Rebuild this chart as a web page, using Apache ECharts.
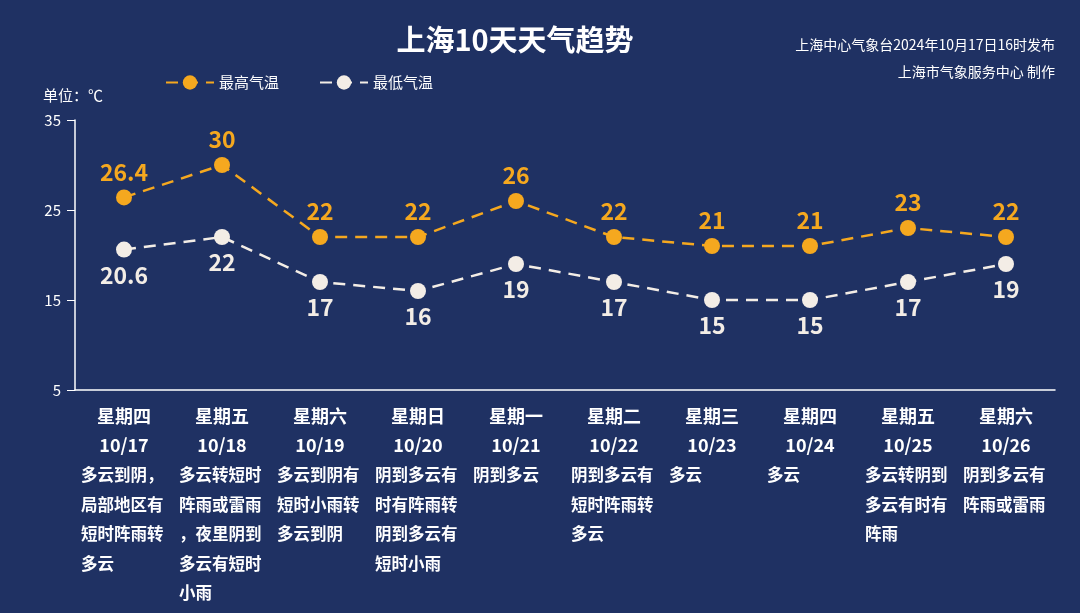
<!DOCTYPE html><html><head><meta charset="utf-8"><script src="https://cdn.jsdelivr.net/npm/echarts@6/dist/echarts.min.js"></script>
<style>html,body{margin:0;background:#1f3163}#c{width:1080px;height:613px}</style></head><body><div id="c"></div><script>
const weekdays=['星期四','星期五','星期六','星期日','星期一','星期二','星期三','星期四','星期五','星期六'];
const dates=['10/17','10/18','10/19','10/20','10/21','10/22','10/23','10/24','10/25','10/26'];
const descs=[['多云到阴，','局部地区有','短时阵雨转','多云'],['多云转短时','阵雨或雷雨','，夜里阴到','多云有短时','小雨'],['多云到阴有','短时小雨转','多云到阴'],['阴到多云有','时有阵雨转','阴到多云有','短时小雨'],['阴到多云'],['阴到多云有','短时阵雨转','多云'],['多云'],['多云'],['多云转阴到','多云有时有','阵雨'],['阴到多云有','阵雨或雷雨']];
const highs=[26.4,30,22,22,26,22,21,21,23,22];
const lows=[20.6,22,17,16,19,17,15,15,17,19];
const F='"Noto Sans CJK SC",sans-serif';
const ch=echarts.init(document.getElementById('c'));
ch.setOption({backgroundColor:'#1f3163',textStyle:{fontFamily:F},
title:[{text:'上海10天天气趋势',left:510,top:20,textAlign:'center',textStyle:{color:'#fff',fontSize:29,fontWeight:'bold',fontFamily:F}},
{text:'上海中心气象台2024年10月17日16时发布',right:20,top:33,textStyle:{color:'#fff',fontSize:14,fontWeight:'normal',fontFamily:F}},
{text:'上海市气象服务中心 制作',right:20,top:60,textStyle:{color:'#fff',fontSize:14,fontWeight:'normal',fontFamily:F}},
{text:'单位：℃',left:38,top:83,textStyle:{color:'#fff',fontSize:15,fontWeight:'normal',fontFamily:F}}],
legend:{left:160,top:70,itemWidth:48,itemHeight:18,itemGap:40,textStyle:{color:'#fff',fontSize:15},data:['最高气温','最低气温']},
grid:{left:75,right:25,top:120,bottom:223},
xAxis:{type:'category',data:weekdays,axisLine:{lineStyle:{color:'#fff',width:1.5}},axisTick:{interval:0,length:70,lineStyle:{color:'#fff'}},
axisLabel:{interval:0,margin:12,formatter:(v,i)=>'{w|'+v+'}\n{w|'+dates[i]+'}\n'+descs[i].map(s=>'{d|'+s+'}').join('\n'),
rich:{w:{color:'#fff',fontSize:18,fontWeight:'bold',lineHeight:29,fontFamily:F},d:{color:'#fff',fontSize:16.5,fontWeight:'bold',lineHeight:29.5,width:86,align:'left',fontFamily:F}}}},
yAxis:{type:'value',min:5,max:35,interval:10,splitLine:{show:false},axisLine:{show:true,lineStyle:{color:'#fff',width:1.5}},axisTick:{show:true,length:8,lineStyle:{color:'#fff'}},axisLabel:{color:'#fff',fontSize:15,margin:14}},
series:[{name:'最高气温',type:'line',data:highs,symbol:'circle',symbolSize:16,itemStyle:{color:'#f5a81f'},lineStyle:{color:'#f5a81f',width:2.5,type:[12,8]},
label:{show:true,position:'top',distance:6,color:'#f5a81f',fontSize:23,fontWeight:'bold'}},
{name:'最低气温',type:'line',data:lows,symbol:'circle',symbolSize:16,itemStyle:{color:'#f3ede6'},lineStyle:{color:'#f3ede6',width:2.5,type:[12,8]},
label:{show:true,position:'bottom',distance:6,color:'#f3ede6',fontSize:23,fontWeight:'bold'}}]});
</script></body></html>
